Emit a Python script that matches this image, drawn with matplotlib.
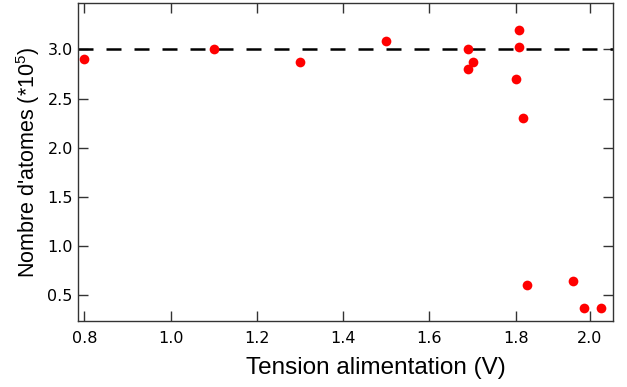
import numpy as np
import matplotlib
matplotlib.use("Agg")
import matplotlib.pyplot as plt

# Données
tension = [0.80, 1.10, 1.30, 1.50, 1.69, 1.69, 1.70, 1.80, 1.81, 1.81, 1.82, 1.83, 1.955, 1.985, 2.03]
atomes = [2.90, 3.00, 2.87, 3.09, 3.00, 2.80, 2.87, 2.70, 3.20, 3.02, 2.30, 0.60, 0.64, 0.365, 0.365]
niveau_ref = 3.0
xticks = [0.8, 1.0, 1.2, 1.4, 1.6, 1.8, 2.0]
yticks = [0.5, 1.0, 1.5, 2.0, 2.5, 3.0]

# Axe des x comprimé au-delà de 1.8 (comme sur l'original)
k = 0.861

def fwd(x):
    x = np.asarray(x, dtype=float)
    return np.where(x <= 1.8, x, 1.8 + (x - 1.8) * k)

def inv(y):
    y = np.asarray(y, dtype=float)
    return np.where(y <= 1.8, y, 1.8 + (y - 1.8) / k)

plt.rcParams['font.family'] = 'DejaVu Sans'
plt.rcParams['mathtext.fontset'] = 'custom'
plt.rcParams['mathtext.rm'] = 'Liberation Sans'
fig = plt.figure(figsize=(6.27, 3.87), dpi=100)
ax = fig.add_axes([0.1249, 0.1698, 0.9772 - 0.1249, 0.9915 - 0.1698])
ax.set_xscale('function', functions=(fwd, inv))

ax.axhline(niveau_ref, color='black', linewidth=1.8, dashes=(6, 5.2))
ax.plot(tension, atomes, 'o', color='#ff0000', markersize=7, markeredgewidth=0, zorder=3)

ax.set_xlim(0.786, 2.061)
ax.set_ylim(0.232, 3.47)
ax.set_xticks(xticks)
ax.set_xticklabels(["%.1f" % t for t in xticks])
ax.set_yticks(yticks)
ax.set_yticklabels(["%.1f" % t for t in yticks])
ax.minorticks_off()

ax.tick_params(direction='in', length=7, width=1, color='#333333',
               top=True, right=True, labelsize=11.5)
ax.tick_params(axis='x', pad=7)
ax.tick_params(axis='y', pad=4)
for s in ax.spines.values():
    s.set_color('#333333')
    s.set_linewidth(1)

ax.set_xlabel("Tension alimentation (V)", fontsize=17.5, family='Liberation Sans')
ax.xaxis.set_label_coords(0.556, -0.112)
ax.set_ylabel("Nombre d'atomes (*10$^\\mathrm{5}$)", fontsize=15.5, family='Liberation Sans', labelpad=4)

fig.savefig("out.png", dpi=100)
